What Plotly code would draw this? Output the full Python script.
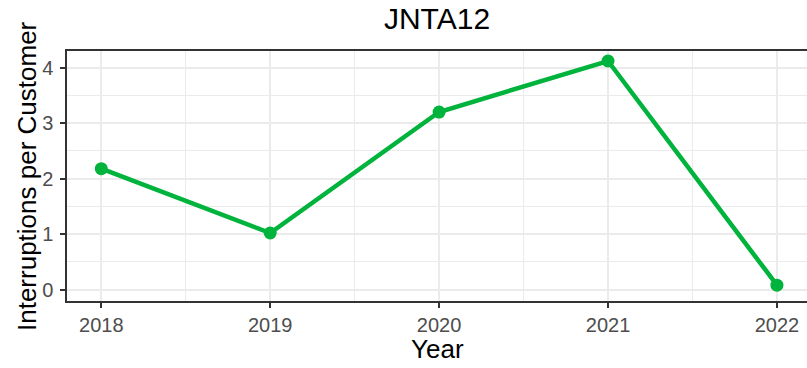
import plotly.graph_objects as go

years = [2018, 2019, 2020, 2021, 2022]
interruptions = [2.18, 1.02, 3.2, 4.12, 0.08]
title_text = "JNTA12"
x_title = "Year"
y_title = "Interruptions per Customer"

FONT = "Liberation Sans, Arial, sans-serif"
GREEN = "#00B33C"

fig = go.Figure()
fig.add_trace(go.Scatter(
    x=years, y=interruptions, mode="lines+markers",
    line=dict(color=GREEN, width=4.5),
    marker=dict(color=GREEN, size=13),
    showlegend=False, cliponaxis=False,
))

fig.update_layout(
    width=807, height=368,
    margin=dict(l=67, r=0, t=51, b=67),
    paper_bgcolor="white", plot_bgcolor="white",
    font=dict(family=FONT),
    title=dict(text=title_text, x=0.5, xref="paper", xanchor="center",
               y=0.95, yref="container", yanchor="middle",
               font=dict(size=30, color="black", family=FONT)),
    xaxis=dict(
        range=[2017.797, 2022.178], tickmode="array", tickvals=years,
        ticktext=[str(y) for y in years],
        showgrid=True, gridcolor="#EBEBEB", gridwidth=1.6,
        minor=dict(dtick=0.5, tick0=2017.5, showgrid=True, gridcolor="#EBEBEB", gridwidth=0.8, ticks=""),
        showline=True, linecolor="#333333", linewidth=1.5, mirror=True,
        ticks="outside", ticklen=5, tickwidth=1.5, tickcolor="#333333",
        tickfont=dict(size=20, color="#4D4D4D", family=FONT),
        zeroline=False,
    ),
    yaxis=dict(
        range=[-0.205, 4.30], tickmode="array", tickvals=[0, 1, 2, 3, 4],
        showgrid=True, gridcolor="#EBEBEB", gridwidth=1.6,
        minor=dict(dtick=0.5, tick0=0.5, showgrid=True, gridcolor="#EBEBEB", gridwidth=0.8, ticks=""),
        showline=True, linecolor="#333333", linewidth=1.5, mirror=False,
        ticks="outside", ticklen=5, tickwidth=1.5, tickcolor="#333333",
        tickfont=dict(size=20, color="#4D4D4D", family=FONT),
        ticklabelstandoff=3,
        zeroline=False,
    ),
    annotations=[
        dict(text=x_title, xref="paper", yref="paper", x=0.5, y=0,
             xanchor="center", yanchor="middle", yshift=-48, showarrow=False,
             font=dict(size=26, color="black", family=FONT)),
        dict(text=y_title, xref="paper", yref="paper", x=0, y=0.5,
             xanchor="center", yanchor="middle", xshift=-40, textangle=-90,
             showarrow=False, font=dict(size=26, color="black", family=FONT)),
    ],
)

fig.write_html("out.html",
               config={"displayModeBar": False},
               post_script="document.body.style.margin='0';document.body.style.overflow='hidden';")
